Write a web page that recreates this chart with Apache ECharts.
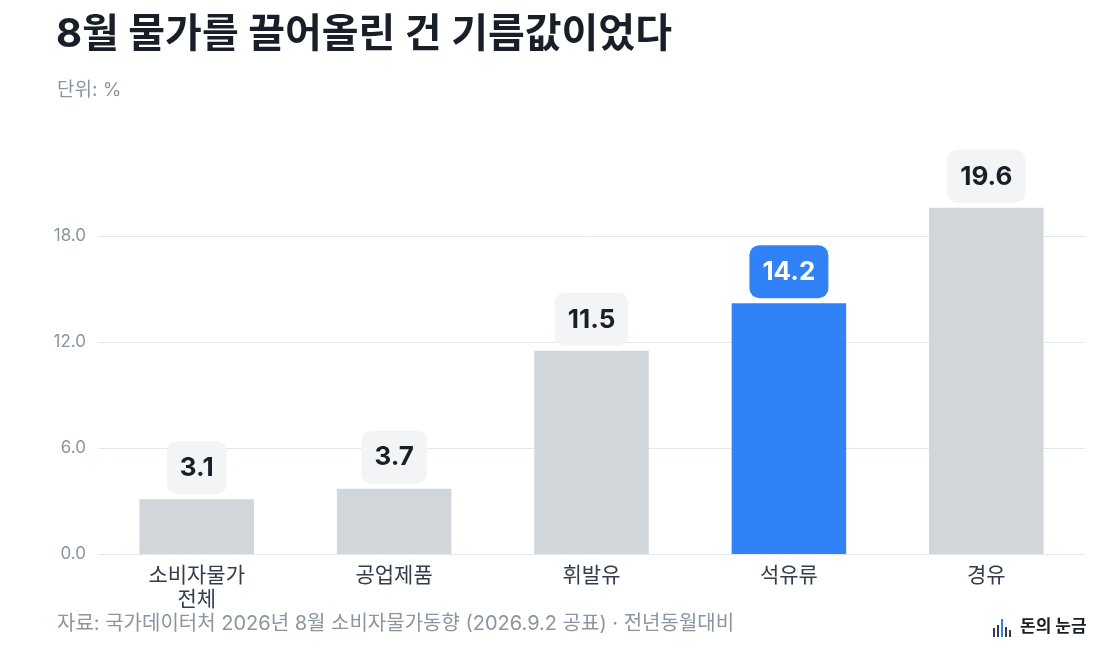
<!DOCTYPE html>
<html>
<head>
<meta charset="utf-8">
<script src="https://cdn.jsdelivr.net/npm/echarts@6/dist/echarts.min.js"></script>
<style>
  html, body { margin: 0; padding: 0; background: #fff; }
  #chart { width: 1120px; height: 660px; }
</style>
</head>
<body>
<div id="chart"></div>
<script>
// 데이터
var categories = ['소비자물가\n전체', '공업제품', '휘발유', '석유류', '경유'];
var values = [3.1, 3.7, 11.5, 14.2, 19.6];
var highlight = '석유류';
var yTicks = [0, 6, 12, 18];

var FONT = 'Inter, "Noto Sans CJK KR", "Noto Sans", sans-serif';
var BLUE = '#3182f6';
var GREY = '#d1d6db';

var chart = echarts.init(document.getElementById('chart'));

var barData = values.map(function (v, i) {
  var hot = categories[i] === highlight;
  return {
    value: v,
    itemStyle: { color: hot ? BLUE : GREY },
    label: {
      backgroundColor: hot ? BLUE : '#f2f4f6',
      color: hot ? '#ffffff' : '#191f28'
    }
  };
});

var option = {
  backgroundColor: '#ffffff',
  textStyle: { fontFamily: FONT },
  title: [{
    text: '8월 물가를 끌어올린 건 기름값이었다',
    left: 56, top: 15, padding: 0,
    textStyle: { fontSize: 40, fontWeight: 'bold', color: '#191f28', fontFamily: FONT }
  }, {
    text: '단위: %',
    left: 57, top: 81, padding: 0,
    textStyle: { fontSize: 19, fontWeight: 'normal', color: '#8b95a1', fontFamily: FONT }
  }, {
    text: '자료: 국가데이터처 2026년 8월 소비자물가동향 (2026.9.2 공표) · 전년동월대비',
    left: 57, top: 614, padding: 0,
    textStyle: { fontSize: 20, fontWeight: 'normal', color: '#8b95a1', fontFamily: FONT }
  }, {
    text: '돈의 눈금',
    left: 1020, top: 618, padding: 0,
    textStyle: { fontSize: 17, fontWeight: 'bold', color: '#191f28', fontFamily: FONT }
  }],
  graphic: [
    // 로고 아이콘
    { type: 'rect', left: 993, top: 628, shape: { width: 2, height: 9 }, style: { fill: '#333d4b' } },
    { type: 'rect', left: 997, top: 625, shape: { width: 2, height: 12 }, style: { fill: '#333d4b' } },
    { type: 'rect', left: 1001, top: 619, shape: { width: 2, height: 18 }, style: { fill: BLUE } },
    { type: 'rect', left: 1005, top: 627, shape: { width: 2, height: 10 }, style: { fill: '#333d4b' } },
    { type: 'rect', left: 1009, top: 630, shape: { width: 2, height: 7 }, style: { fill: '#333d4b' } }
  ],
  grid: { left: 98, right: 35, top: 130, bottom: 106, containLabel: false },
  xAxis: {
    type: 'category',
    data: categories,
    axisLine: { show: false },
    axisTick: { show: false },
    axisLabel: {
      color: '#333d4b', fontSize: 21, lineHeight: 24, margin: 10, fontFamily: FONT
    }
  },
  yAxis: {
    type: 'value',
    min: 0, max: 24, interval: 6,
    axisLine: { show: false },
    axisTick: { show: false },
    axisLabel: {
      color: '#8b95a1', fontSize: 17, margin: 12, fontFamily: FONT,
      showMaxLabel: false,
      formatter: function (v) { return yTicks.indexOf(v) >= 0 ? v.toFixed(1) : ''; }
    },
    splitLine: { showMaxLine: false, lineStyle: { color: '#e5e8eb', width: 1 } }
  },
  series: [{
    type: 'bar',
    data: barData,
    barWidth: '58%',
    label: {
      show: true,
      position: 'top',
      distance: 5,
      fontSize: 26,
      fontWeight: 'bold',
      fontFamily: FONT,
      lineHeight: 30,
      padding: [12, 13, 11, 13],
      borderRadius: 10,
      formatter: function (p) { return p.value.toFixed(1); }
    }
  }]
};

chart.setOption(option);
</script>
</body>
</html>
